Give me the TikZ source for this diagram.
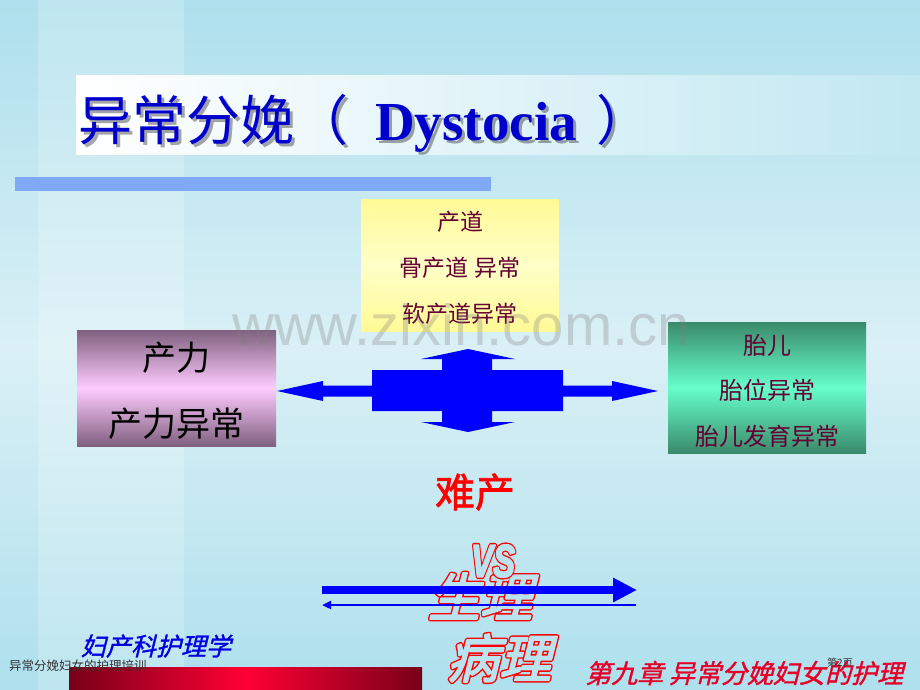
\documentclass[tikz,border=0pt]{standalone}
\usepackage{fontspec}
\setmainfont{Liberation Serif}
\newfontfamily\cjk{Noto Sans CJK SC}
\newfontfamily\cjkit[FakeSlant=0.25]{Noto Sans CJK SC}
\newfontfamily\cjkbold[FakeBold=1.5]{Noto Sans CJK SC}
\newfontfamily\cjkslbold[FakeSlant=0.25,FakeBold=1.2]{Noto Sans CJK SC}
\newfontfamily\wmfont{Liberation Sans}
\newfontfamily\vsfont{Liberation Sans}
\usetikzlibrary{arrows.meta}
\newcommand{\bubbletext}[1]{\rlap{\special{pdf:literal direct 2 Tr 4.6 w 1 j 1 0 0 rg 1 0 0 RG}#1}\special{pdf:literal direct 2 Tr 1.8 w 1 j 0.725 0.894 0.937 rg 0.725 0.894 0.937 RG}#1\special{pdf:literal direct 0 Tr 1 0 0 rg 1 0 0 RG}}
\definecolor{bgA}{RGB}{174,224,237}
\definecolor{bgB}{RGB}{218,240,246}
\definecolor{bgC}{RGB}{194,232,242}
\definecolor{ttlblue}{RGB}{0,0,204}
\definecolor{barblue}{RGB}{127,168,245}
\definecolor{ylwA}{RGB}{255,250,150}
\definecolor{ylwB}{RGB}{255,255,200}
\definecolor{maroonT}{RGB}{102,0,51}
\definecolor{mauveA}{RGB}{128,96,128}
\definecolor{mauveB}{RGB}{255,204,255}
\definecolor{greenA}{RGB}{58,138,106}
\definecolor{greenB}{RGB}{102,255,204}
\definecolor{redA}{RGB}{120,0,25}
\definecolor{redB}{RGB}{255,0,51}
\definecolor{arrblue}{RGB}{0,0,255}
\definecolor{footblue}{RGB}{0,0,225}
\definecolor{footred}{RGB}{230,0,40}
\tikzset{
  ttl/.style={anchor=base west,inner sep=0pt,text=ttlblue},
  ttlshadow/.style={anchor=base west,inner sep=0pt,text=black,opacity=0.35},
  boxtext/.style={inner sep=0pt,text=maroonT,font=\cjk\fontsize{23}{23}\selectfont},
  fboxtext/.style={inner sep=0pt,text=maroonT,font=\cjk\fontsize{24}{24}\selectfont},
  pboxtext/.style={inner sep=0pt,text=black,font=\cjk\fontsize{34}{34}\selectfont},
  plainbox/.style={draw=none,inner sep=0pt},
  outlined/.style={inner sep=0pt,text=red},
}
\begin{document}
\begin{tikzpicture}[x=1pt,y=-1pt]
\useasboundingbox (0,0) rectangle (920,690);
% background
\shade[top color=bgA,bottom color=bgB] (0,0) rectangle (920,350);
\shade[top color=bgB,bottom color=bgA] (0,349) rectangle (920,690);
\fill[white,opacity=0.2] (38,0) rectangle (184,690);
% title band
\shade[left color=white,right color=bgC] (76,76) rectangle (920,154);
% title shadow
\node[ttlshadow,font=\cjk\fontsize{54}{54}\selectfont] (t1s) at (81,143) {异常分娩（};
\node[ttlshadow,font=\bfseries\fontsize{55}{55}\selectfont] (t2s) at (378,143) {Dystocia};
\node[ttlshadow,font=\cjk\fontsize{54}{54}\selectfont] (t3s) at (599,143) {）};
% title
\node[ttl,font=\cjk\fontsize{54}{54}\selectfont] (t1) at (78,140) {异常分娩（};
\node[ttl,font=\bfseries\fontsize{55}{55}\selectfont] (t2) at (375,140) {Dystocia};
\node[ttl,font=\cjk\fontsize{54}{54}\selectfont] (t3) at (596,140) {）};
% bar
\fill[barblue] (15,177) rectangle (491,191);
% yellow box
\node[plainbox,minimum width=198pt,minimum height=132pt,top color=ylwA,bottom color=ylwA,middle color=ylwB] (road) at (460,265) {};
\node[boxtext] (road1) at (460,222) {产道};
\node[boxtext] (road2) at (460,268) {骨产道 异常};
\node[boxtext] (road3) at (460,314) {软产道异常};
% left box
\node[plainbox,minimum width=199pt,minimum height=116pt,top color=mauveA,bottom color=mauveA,middle color=mauveB] (power) at (176.5,388) {};
\node[pboxtext] (power1) at (176.5,358) {产力};
\node[pboxtext] (power2) at (176.5,424) {产力异常};
% right box
\node[plainbox,minimum width=198pt,minimum height=131pt,top color=greenA,bottom color=greenA,middle color=greenB] (fetus) at (767,387.5) {};
\node[fboxtext] (fetus1) at (767,345) {胎儿};
\node[fboxtext] (fetus2) at (767,390) {胎位异常};
\node[fboxtext] (fetus3) at (767,436) {胎儿发育异常};
% central cross arrow
\fill[arrblue] (277,391) -- (323,381) -- (323,385.5) -- (372,385.5) -- (372,370) -- (442,370) -- (442,359) -- (421,359) -- (468,349) -- (515,359) -- (492,359) -- (492,370) -- (563,370) -- (563,385.5) -- (612,385.5) -- (612,381) -- (658,391) -- (612,401) -- (612,396.5) -- (563,396.5) -- (563,411) -- (492,411) -- (492,422) -- (515,422) -- (468,432) -- (421,422) -- (442,422) -- (442,411) -- (372,411) -- (372,396.5) -- (323,396.5) -- (323,401) -- cycle;
% watermark
\node[inner sep=0pt,anchor=base,text=gray,opacity=0.3,font=\wmfont\fontsize{58}{58}\selectfont] (wm) at (461,345) {www.zixin.com.cn};
% difficult labour
\node[inner sep=0pt,text=red,font=\cjkbold\fontsize{40}{40}\selectfont] (nanchan) at (475,492) {难产};
% outlined words
\node[outlined,font=\cjkit\fontsize{52}{52}\selectfont] (sheng) at (480,596) {\bubbletext{生理}};
\node[outlined,xscale=0.72,font=\vsfont\bfseries\itshape\fontsize{46}{46}\selectfont] (vs) at (493,561) {\bubbletext{VS}};
\node[outlined,font=\cjkit\fontsize{52}{52}\selectfont] (bing) at (499,658) {\bubbletext{病理}};
% bottom arrows
\coordinate (fwdS) at (322,590);
\coordinate (fwdE) at (637,590);
\coordinate (bwdS) at (636,605);
\coordinate (bwdE) at (322,605);
\draw[arrblue,line width=8pt,-{Triangle[length=24pt,width=23pt]}] (fwdS) -- (fwdE);
\draw[arrblue,line width=2.5pt,-{Triangle[length=9pt,width=8pt]}] (bwdS) -- (bwdE);
% footer
\shade[left color=redA,right color=redA,middle color=redB] (69,667) rectangle (422,690);
\node[inner sep=0pt,text=footblue,font=\cjkslbold\fontsize{25}{25}\selectfont] (course) at (156,646) {妇产科护理学};
\node[inner sep=0pt,anchor=west,text=black!80,font=\cjk\fontsize{12.5}{12.5}\selectfont] (doc) at (9,666) {异常分娩妇女的护理培训};
\node[inner sep=0pt,anchor=west,text=footred,font=\cjkslbold\fontsize{26}{26}\selectfont] (chapter) at (585,673) {第九章\ 异常分娩妇女的护理};
\node[inner sep=0pt,text=black!80,font=\cjk\fontsize{10}{10}\selectfont] (page) at (840,663) {第2页};
\end{tikzpicture}
\end{document}
